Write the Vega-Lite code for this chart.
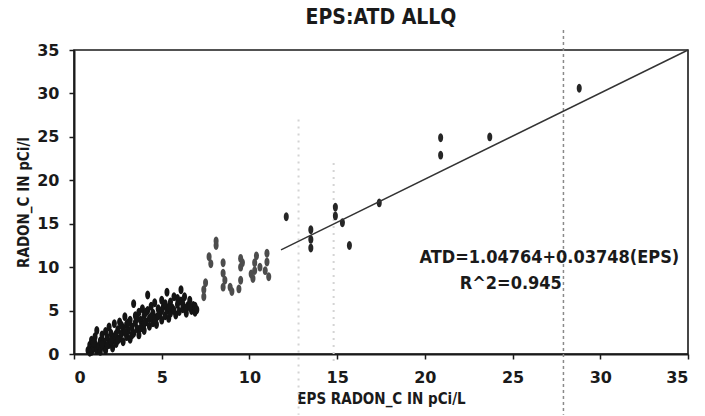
{
  "$schema": "https://vega.github.io/schema/vega-lite/v6.json",
  "width": 614,
  "height": 304,
  "autosize": {"type": "none"},
  "padding": {"left": 74, "top": 50, "right": 17, "bottom": 62},
  "background": "white",
  "title": {"text": "EPS:ATD ALLQ", "font": "DejaVu Sans Condensed", "fontSize": 21, "fontWeight": "bold", "color": "#1a1a1a", "offset": 1, "anchor": "middle"},
  "config": {
    "view": {"stroke": "#1a1a1a", "strokeWidth": 1.6},
    "axis": {
      "grid": false,
      "domainColor": "#1a1a1a",
      "domainWidth": 2,
      "tickColor": "#1a1a1a",
      "tickWidth": 1.5,
      "tickSize": 5,
      "labelFont": "DejaVu Sans",
      "labelFontWeight": "bold",
      "labelFontSize": 16,
      "labelColor": "#1a1a1a",
      "titleFont": "DejaVu Sans Condensed",
      "titleFontWeight": "bold",
      "titleColor": "#1a1a1a"
    }
  },
  "datasets": {
    "pts": [
      {"eps": 0.8, "atd": 0.4, "grp": "low"}, {"eps": 0.9, "atd": 1.0, "grp": "low"}, {"eps": 1.0, "atd": 0.3, "grp": "low"}, {"eps": 1.0, "atd": 1.6, "grp": "low"},
      {"eps": 1.1, "atd": 0.6, "grp": "low"}, {"eps": 1.2, "atd": 1.2, "grp": "low"}, {"eps": 1.2, "atd": 2.0, "grp": "low"}, {"eps": 1.3, "atd": 0.4, "grp": "low"},
      {"eps": 1.3, "atd": 2.7, "grp": "low"}, {"eps": 1.4, "atd": 0.9, "grp": "low"}, {"eps": 1.5, "atd": 1.5, "grp": "low"}, {"eps": 1.5, "atd": 0.3, "grp": "low"},
      {"eps": 1.6, "atd": 2.2, "grp": "low"}, {"eps": 1.7, "atd": 0.8, "grp": "low"}, {"eps": 1.7, "atd": 1.4, "grp": "low"}, {"eps": 1.8, "atd": 2.6, "grp": "low"},
      {"eps": 1.8, "atd": 0.4, "grp": "low"}, {"eps": 1.9, "atd": 1.9, "grp": "low"}, {"eps": 2.0, "atd": 1.1, "grp": "low"}, {"eps": 2.0, "atd": 3.1, "grp": "low"},
      {"eps": 2.1, "atd": 2.4, "grp": "low"}, {"eps": 2.2, "atd": 0.7, "grp": "low"}, {"eps": 2.2, "atd": 1.6, "grp": "low"}, {"eps": 2.3, "atd": 3.5, "grp": "low"},
      {"eps": 2.3, "atd": 2.0, "grp": "low"}, {"eps": 2.4, "atd": 1.2, "grp": "low"}, {"eps": 2.5, "atd": 2.8, "grp": "low"}, {"eps": 2.6, "atd": 1.8, "grp": "low"},
      {"eps": 2.6, "atd": 3.7, "grp": "low"}, {"eps": 2.7, "atd": 2.3, "grp": "low"}, {"eps": 2.8, "atd": 1.4, "grp": "low"}, {"eps": 2.8, "atd": 3.0, "grp": "low"},
      {"eps": 2.9, "atd": 4.3, "grp": "low"}, {"eps": 3.0, "atd": 2.0, "grp": "low"}, {"eps": 3.0, "atd": 3.4, "grp": "low"}, {"eps": 3.1, "atd": 2.7, "grp": "low"},
      {"eps": 3.2, "atd": 3.9, "grp": "low"}, {"eps": 3.2, "atd": 1.7, "grp": "low"}, {"eps": 3.3, "atd": 3.1, "grp": "low"}, {"eps": 3.4, "atd": 5.8, "grp": "low"},
      {"eps": 3.4, "atd": 2.4, "grp": "low"}, {"eps": 3.5, "atd": 4.4, "grp": "low"}, {"eps": 3.5, "atd": 3.6, "grp": "low"}, {"eps": 3.6, "atd": 2.9, "grp": "low"},
      {"eps": 3.7, "atd": 4.8, "grp": "low"}, {"eps": 3.7, "atd": 2.2, "grp": "low"}, {"eps": 3.8, "atd": 3.9, "grp": "low"}, {"eps": 3.9, "atd": 5.2, "grp": "low"},
      {"eps": 3.9, "atd": 3.3, "grp": "low"}, {"eps": 4.0, "atd": 4.4, "grp": "low"}, {"eps": 4.0, "atd": 2.7, "grp": "low"}, {"eps": 4.1, "atd": 3.7, "grp": "low"},
      {"eps": 4.2, "atd": 6.8, "grp": "low"}, {"eps": 4.2, "atd": 5.0, "grp": "low"}, {"eps": 4.3, "atd": 3.2, "grp": "low"}, {"eps": 4.3, "atd": 4.1, "grp": "low"},
      {"eps": 4.4, "atd": 5.5, "grp": "low"}, {"eps": 4.5, "atd": 3.6, "grp": "low"}, {"eps": 4.5, "atd": 4.7, "grp": "low"}, {"eps": 4.6, "atd": 5.9, "grp": "low"},
      {"eps": 4.7, "atd": 4.2, "grp": "low"}, {"eps": 4.7, "atd": 3.4, "grp": "low"}, {"eps": 4.8, "atd": 5.2, "grp": "low"}, {"eps": 4.9, "atd": 4.6, "grp": "low"},
      {"eps": 5.0, "atd": 6.2, "grp": "low"}, {"eps": 5.0, "atd": 3.9, "grp": "low"}, {"eps": 5.1, "atd": 5.5, "grp": "low"}, {"eps": 5.2, "atd": 4.4, "grp": "low"},
      {"eps": 5.3, "atd": 7.1, "grp": "low"}, {"eps": 5.3, "atd": 5.0, "grp": "low"}, {"eps": 5.4, "atd": 4.1, "grp": "low"}, {"eps": 5.5, "atd": 6.0, "grp": "low"},
      {"eps": 5.5, "atd": 4.7, "grp": "low"}, {"eps": 5.6, "atd": 5.3, "grp": "low"}, {"eps": 5.7, "atd": 6.6, "grp": "low"}, {"eps": 5.8, "atd": 4.5, "grp": "low"},
      {"eps": 5.9, "atd": 5.7, "grp": "low"}, {"eps": 6.0, "atd": 4.9, "grp": "low"}, {"eps": 6.1, "atd": 7.4, "grp": "low"}, {"eps": 6.1, "atd": 6.1, "grp": "low"},
      {"eps": 6.2, "atd": 5.2, "grp": "low"}, {"eps": 6.3, "atd": 6.6, "grp": "low"}, {"eps": 6.4, "atd": 4.7, "grp": "low"}, {"eps": 6.5, "atd": 5.6, "grp": "low"},
      {"eps": 6.6, "atd": 6.2, "grp": "low"}, {"eps": 6.7, "atd": 5.0, "grp": "low"}, {"eps": 6.8, "atd": 5.6, "grp": "low"}, {"eps": 6.9, "atd": 4.8, "grp": "low"},
      {"eps": 0.9, "atd": 0.2, "grp": "low"}, {"eps": 1.1, "atd": 1.3, "grp": "low"}, {"eps": 1.6, "atd": 1.1, "grp": "low"}, {"eps": 1.9, "atd": 1.0, "grp": "low"},
      {"eps": 2.1, "atd": 1.5, "grp": "low"}, {"eps": 2.4, "atd": 2.3, "grp": "low"}, {"eps": 2.5, "atd": 1.6, "grp": "low"}, {"eps": 2.7, "atd": 3.3, "grp": "low"},
      {"eps": 2.9, "atd": 2.5, "grp": "low"}, {"eps": 3.1, "atd": 3.6, "grp": "low"}, {"eps": 3.3, "atd": 2.2, "grp": "low"}, {"eps": 3.6, "atd": 4.1, "grp": "low"},
      {"eps": 3.8, "atd": 3.0, "grp": "low"}, {"eps": 4.0, "atd": 3.5, "grp": "low"}, {"eps": 4.1, "atd": 4.8, "grp": "low"}, {"eps": 4.4, "atd": 4.3, "grp": "low"},
      {"eps": 4.6, "atd": 4.0, "grp": "low"}, {"eps": 4.8, "atd": 4.4, "grp": "low"}, {"eps": 5.0, "atd": 5.0, "grp": "low"}, {"eps": 5.2, "atd": 5.8, "grp": "low"},
      {"eps": 5.4, "atd": 5.4, "grp": "low"}, {"eps": 5.7, "atd": 5.0, "grp": "low"}, {"eps": 5.9, "atd": 6.4, "grp": "low"}, {"eps": 6.2, "atd": 5.8, "grp": "low"},
      {"eps": 6.4, "atd": 5.3, "grp": "low"}, {"eps": 6.6, "atd": 5.4, "grp": "low"}, {"eps": 6.9, "atd": 5.5, "grp": "low"}, {"eps": 7.0, "atd": 5.1, "grp": "low"},
      {"eps": 7.4, "atd": 6.6, "grp": "mid"}, {"eps": 7.4, "atd": 7.4, "grp": "mid"}, {"eps": 7.5, "atd": 8.2, "grp": "mid"}, {"eps": 7.7, "atd": 11.2, "grp": "mid"},
      {"eps": 7.8, "atd": 10.4, "grp": "mid"}, {"eps": 8.1, "atd": 12.5, "grp": "mid"}, {"eps": 8.1, "atd": 13.0, "grp": "mid"}, {"eps": 8.5, "atd": 10.5, "grp": "mid"},
      {"eps": 8.5, "atd": 9.3, "grp": "mid"}, {"eps": 8.6, "atd": 8.5, "grp": "mid"}, {"eps": 8.5, "atd": 7.7, "grp": "mid"}, {"eps": 8.9, "atd": 7.7, "grp": "mid"},
      {"eps": 9.0, "atd": 7.2, "grp": "mid"}, {"eps": 9.5, "atd": 11.0, "grp": "mid"}, {"eps": 9.5, "atd": 10.0, "grp": "mid"}, {"eps": 9.5, "atd": 8.5, "grp": "mid"},
      {"eps": 9.4, "atd": 7.5, "grp": "mid"}, {"eps": 9.6, "atd": 10.5, "grp": "mid"}, {"eps": 10.2, "atd": 8.7, "grp": "mid"}, {"eps": 10.3, "atd": 9.6, "grp": "mid"},
      {"eps": 10.3, "atd": 10.5, "grp": "mid"}, {"eps": 10.4, "atd": 11.3, "grp": "mid"}, {"eps": 10.1, "atd": 9.2, "grp": "mid"}, {"eps": 11.0, "atd": 11.6, "grp": "mid"},
      {"eps": 11.0, "atd": 10.6, "grp": "mid"}, {"eps": 10.9, "atd": 9.6, "grp": "mid"}, {"eps": 11.1, "atd": 8.9, "grp": "mid"}, {"eps": 10.6, "atd": 10.0, "grp": "mid"},
      {"eps": 12.1, "atd": 15.8, "grp": "high"}, {"eps": 13.5, "atd": 14.3, "grp": "high"}, {"eps": 13.5, "atd": 13.2, "grp": "high"}, {"eps": 13.5, "atd": 12.2, "grp": "high"},
      {"eps": 14.9, "atd": 16.9, "grp": "high"}, {"eps": 14.9, "atd": 15.9, "grp": "high"}, {"eps": 15.3, "atd": 15.1, "grp": "high"}, {"eps": 15.7, "atd": 12.5, "grp": "high"},
      {"eps": 17.4, "atd": 17.4, "grp": "high"}, {"eps": 20.9, "atd": 24.9, "grp": "high"}, {"eps": 20.9, "atd": 22.9, "grp": "high"}, {"eps": 23.7, "atd": 25.0, "grp": "high"},
      {"eps": 28.8, "atd": 30.6, "grp": "high"}
    ],
    "fit": [{"eps": 11.8, "atd": 12.0}, {"eps": 35, "atd": 35}],
    "mark28": [{"eps": 27.9, "atd": 37.3, "atd2": -7}],
    "faint": [{"eps": 12.8, "atd": 27, "atd2": -7}, {"eps": 14.8, "atd": 22, "atd2": -1}],
    "notes": [
      {"eps": 27.1, "atd": 11.0, "label": "ATD=1.04764+0.03748(EPS)"},
      {"eps": 24.9, "atd": 8.1, "label": "R^2=0.945"}
    ]
  },
  "layer": [
    {
      "data": {"name": "faint"},
      "mark": {"type": "rule", "color": "#d4d4d4", "strokeWidth": 2, "strokeDash": [2, 5]},
      "encoding": {
        "x": {"field": "eps", "type": "quantitative", "scale": {"domain": [0, 35], "nice": false}},
        "y": {"field": "atd", "type": "quantitative", "scale": {"domain": [0, 35], "nice": false}},
        "y2": {"field": "atd2"}
      }
    },
    {
      "data": {"name": "mark28"},
      "mark": {"type": "rule", "color": "#8a8a8a", "strokeWidth": 1.5, "strokeDash": [3, 3]},
      "encoding": {
        "x": {"field": "eps", "type": "quantitative"},
        "y": {"field": "atd", "type": "quantitative"},
        "y2": {"field": "atd2"}
      }
    },
    {
      "data": {"name": "pts"},
      "mark": {"type": "point", "filled": true, "opacity": 1, "shape": "M0,-1C0.75,-1 0.75,1 0,1C-0.75,1 -0.75,-1 0,-1Z", "size": 80},
      "encoding": {
        "x": {
          "field": "eps", "type": "quantitative",
          "scale": {"domain": [0, 35], "nice": false},
          "axis": {"values": [0, 5, 10, 15, 20, 25, 30, 35], "title": "EPS RADON_C IN pCi/L", "titleFontSize": 15, "labelPadding": 10, "titlePadding": 6}
        },
        "y": {
          "field": "atd", "type": "quantitative",
          "scale": {"domain": [0, 35], "nice": false},
          "axis": {"values": [0, 5, 10, 15, 20, 25, 30, 35], "title": "RADON_C IN pCi/l", "titleFontSize": 15, "labelPadding": 10, "titlePadding": 5}
        },
        "color": {"field": "grp", "type": "nominal", "scale": {"domain": ["low", "mid", "high"], "range": ["#141414", "#4d4d4d", "#262626"]}, "legend": null}
      }
    },
    {
      "data": {"name": "fit"},
      "mark": {"type": "line", "color": "#333333", "strokeWidth": 1.4},
      "encoding": {
        "x": {"field": "eps", "type": "quantitative"},
        "y": {"field": "atd", "type": "quantitative"}
      }
    },
    {
      "data": {"name": "notes"},
      "mark": {"type": "text", "font": "DejaVu Sans Condensed", "fontWeight": "bold", "fontSize": 18, "color": "#1a1a1a", "align": "center", "baseline": "middle"},
      "encoding": {
        "x": {"field": "eps", "type": "quantitative"},
        "y": {"field": "atd", "type": "quantitative"},
        "text": {"field": "label"}
      }
    }
  ]
}
